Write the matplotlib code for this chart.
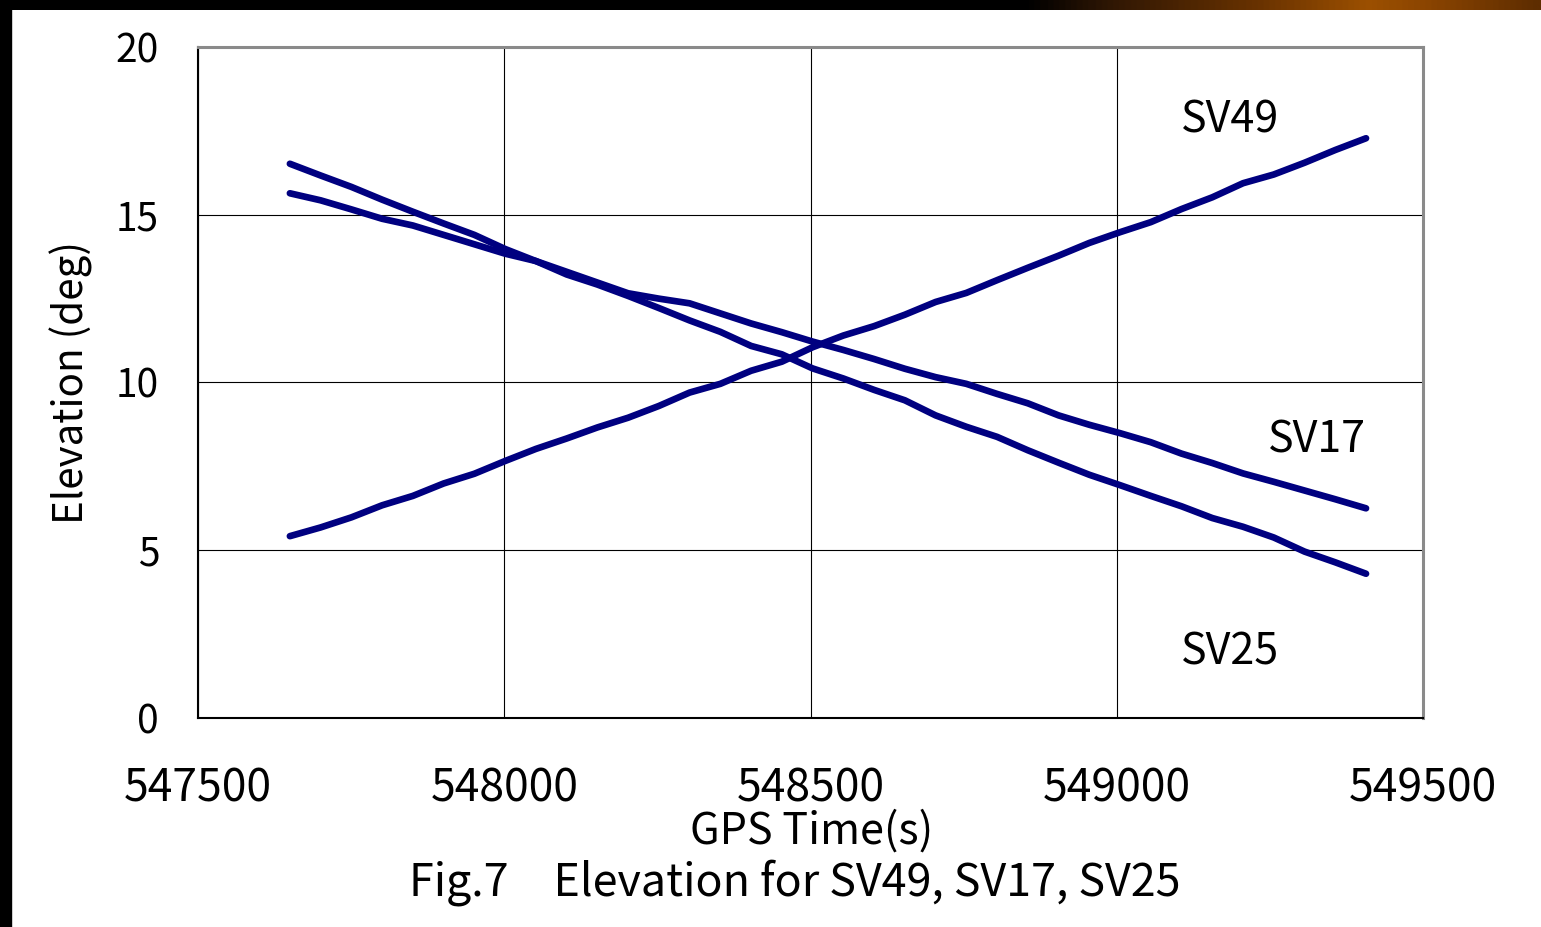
import numpy as np
import matplotlib
matplotlib.use("Agg")
import matplotlib.pyplot as plt
from matplotlib.colors import LinearSegmentedColormap
from matplotlib.patches import Rectangle

plt.rcParams['font.family'] = ['Noto Sans CJK JP', 'DejaVu Sans']

# GPS time of each sample (s)
gps_time = np.linspace(547650, 549407, 36)

# Elevation of each satellite (deg)
sv49 = [5.42, 5.68, 5.98, 6.34, 6.62, 6.99, 7.28, 7.66, 8.02, 8.33,
        8.66, 8.95, 9.30, 9.70, 9.96, 10.35, 10.62, 11.05, 11.40, 11.68,
        12.02, 12.40, 12.67, 13.05, 13.42, 13.78, 14.16, 14.48, 14.78, 15.17,
        15.52, 15.94, 16.20, 16.55, 16.93, 17.28]
sv17 = [15.64, 15.43, 15.16, 14.88, 14.68, 14.40, 14.12, 13.84, 13.62, 13.30,
        12.98, 12.66, 12.50, 12.36, 12.06, 11.76, 11.50, 11.22, 10.97, 10.70,
        10.41, 10.16, 9.96, 9.66, 9.38, 9.02, 8.74, 8.49, 8.22, 7.88,
        7.60, 7.29, 7.04, 6.78, 6.52, 6.25]
sv25 = [16.52, 16.17, 15.83, 15.45, 15.09, 14.74, 14.40, 13.98, 13.62, 13.22,
        12.92, 12.58, 12.22, 11.85, 11.51, 11.09, 10.84, 10.42, 10.12, 9.78,
        9.47, 9.02, 8.68, 8.38, 7.98, 7.61, 7.25, 6.94, 6.62, 6.31,
        5.96, 5.70, 5.38, 4.96, 4.64, 4.30]

x_ticks = [547500, 548000, 548500, 549000, 549500]
y_ticks = [0, 5, 10, 15, 20]

W, H = 1541, 927
fig = plt.figure(figsize=(W / 100, H / 100), dpi=100, facecolor='white')

# slide frame: black strip along the top with a warm gradient, and along the left
band = fig.add_axes([0, 1 - 10 / H, 1, 10 / H], zorder=-5)
cmap = LinearSegmentedColormap.from_list('band', [
    (0.0, '#000000'), (0.668, '#000000'), (0.72, '#2e1604'),
    (0.82, '#6a3300'), (0.89, '#9c5000'), (0.93, '#8a4400'), (1.0, '#5e2d00')])
band.imshow(np.linspace(0, 1, 800)[None, :], aspect='auto', cmap=cmap,
            extent=[0, 1, 0, 1])
band.set_axis_off()
fig.patches.append(Rectangle((0, 0), 11 / W, 1, transform=fig.transFigure,
                             color='black', zorder=-5))

ax = fig.add_axes([198 / W, 1 - 718 / H, (1423 - 198) / W, (718 - 47) / H])
ax.set_facecolor('white')

for series in (sv49, sv17, sv25):
    ax.plot(gps_time, series, color='#000080', lw=4.8,
            solid_capstyle='round', solid_joinstyle='round', zorder=3)

ax.set_xlim(547500, 549500)
ax.set_ylim(0, 20)
ax.set_xticks(x_ticks)
ax.set_yticks(y_ticks)
ax.grid(True, color='black', lw=0.8)
ax.set_axisbelow(True)
ax.tick_params(axis='both', length=0)
ax.tick_params(axis='x', labelsize=32, pad=34)
ax.tick_params(axis='y', labelsize=28, pad=28)

for side in ('top', 'right'):
    ax.spines[side].set_color('#8a8a8a')
    ax.spines[side].set_linewidth(2.2)
for side in ('left', 'bottom'):
    ax.spines[side].set_color('black')
    ax.spines[side].set_linewidth(1.5)

ax.set_xlabel('GPS Time(s)', fontsize=31)
ax.xaxis.set_label_coords(0.501, -0.137)
ax.set_ylabel('Elevation (deg)', fontsize=29)
ax.yaxis.set_label_coords(-0.086, 0.5)

ax.text(549185, 17.82, 'SV49', fontsize=31, ha='center', va='center')
ax.text(549327, 8.26, 'SV17', fontsize=31, ha='center', va='center')
ax.text(549185, 1.94, 'SV25', fontsize=31, ha='center', va='center')

fig.text(795 / W, 1 - 883 / H, 'Fig.7\u3000Elevation for SV49, SV17, SV25',
         fontsize=32.3, ha='center', va='center')

fig.savefig('out.png', dpi=100, facecolor='white')
